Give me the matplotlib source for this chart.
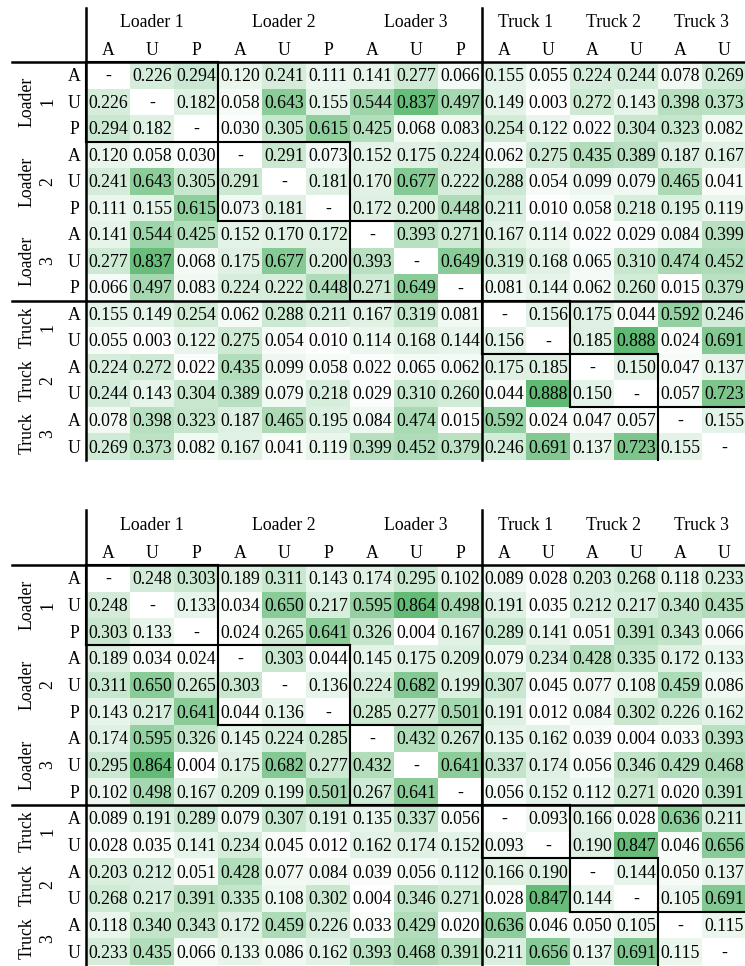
import numpy as np
import matplotlib.pyplot as plt
from matplotlib.colors import LinearSegmentedColormap

plt.rcParams['font.family'] = ['Liberation Serif', 'DejaVu Serif']

# groups of the matrix, with their sub-variables
groups = ["Loader 1", "Loader 2", "Loader 3", "Truck 1", "Truck 2", "Truck 3"]
row_groups = ["Loader\n1", "Loader\n2", "Loader\n3", "Truck\n1", "Truck\n2", "Truck\n3"]
sub_labels = [["A", "U", "P"], ["A", "U", "P"], ["A", "U", "P"],
              ["A", "U"], ["A", "U"], ["A", "U"]]

N = None
matrix_top = [
    [N, .226, .294, .120, .241, .111, .141, .277, .066, .155, .055, .224, .244, .078, .269],
    [.226, N, .182, .058, .643, .155, .544, .837, .497, .149, .003, .272, .143, .398, .373],
    [.294, .182, N, .030, .305, .615, .425, .068, .083, .254, .122, .022, .304, .323, .082],
    [.120, .058, .030, N, .291, .073, .152, .175, .224, .062, .275, .435, .389, .187, .167],
    [.241, .643, .305, .291, N, .181, .170, .677, .222, .288, .054, .099, .079, .465, .041],
    [.111, .155, .615, .073, .181, N, .172, .200, .448, .211, .010, .058, .218, .195, .119],
    [.141, .544, .425, .152, .170, .172, N, .393, .271, .167, .114, .022, .029, .084, .399],
    [.277, .837, .068, .175, .677, .200, .393, N, .649, .319, .168, .065, .310, .474, .452],
    [.066, .497, .083, .224, .222, .448, .271, .649, N, .081, .144, .062, .260, .015, .379],
    [.155, .149, .254, .062, .288, .211, .167, .319, .081, N, .156, .175, .044, .592, .246],
    [.055, .003, .122, .275, .054, .010, .114, .168, .144, .156, N, .185, .888, .024, .691],
    [.224, .272, .022, .435, .099, .058, .022, .065, .062, .175, .185, N, .150, .047, .137],
    [.244, .143, .304, .389, .079, .218, .029, .310, .260, .044, .888, .150, N, .057, .723],
    [.078, .398, .323, .187, .465, .195, .084, .474, .015, .592, .024, .047, .057, N, .155],
    [.269, .373, .082, .167, .041, .119, .399, .452, .379, .246, .691, .137, .723, .155, N],
]

matrix_bottom = [
    [N, .248, .303, .189, .311, .143, .174, .295, .102, .089, .028, .203, .268, .118, .233],
    [.248, N, .133, .034, .650, .217, .595, .864, .498, .191, .035, .212, .217, .340, .435],
    [.303, .133, N, .024, .265, .641, .326, .004, .167, .289, .141, .051, .391, .343, .066],
    [.189, .034, .024, N, .303, .044, .145, .175, .209, .079, .234, .428, .335, .172, .133],
    [.311, .650, .265, .303, N, .136, .224, .682, .199, .307, .045, .077, .108, .459, .086],
    [.143, .217, .641, .044, .136, N, .285, .277, .501, .191, .012, .084, .302, .226, .162],
    [.174, .595, .326, .145, .224, .285, N, .432, .267, .135, .162, .039, .004, .033, .393],
    [.295, .864, .004, .175, .682, .277, .432, N, .641, .337, .174, .056, .346, .429, .468],
    [.102, .498, .167, .209, .199, .501, .267, .641, N, .056, .152, .112, .271, .020, .391],
    [.089, .191, .289, .079, .307, .191, .135, .337, .056, N, .093, .166, .028, .636, .211],
    [.028, .035, .141, .234, .045, .012, .162, .174, .152, .093, N, .190, .847, .046, .656],
    [.203, .212, .051, .428, .077, .084, .039, .056, .112, .166, .190, N, .144, .050, .137],
    [.268, .217, .391, .335, .108, .302, .004, .346, .271, .028, .847, .144, N, .105, .691],
    [.118, .340, .343, .172, .459, .226, .033, .429, .020, .636, .046, .050, .105, N, .115],
    [.233, .435, .066, .133, .086, .162, .393, .468, .391, .211, .656, .137, .691, .115, N],
]

cmap = LinearSegmentedColormap.from_list("wg", ["#ffffff", "#4bb061"])
cmap.set_bad("white")
FS = 12.8


def draw_table(ax, matrix):
    m = np.array([[np.nan if v is None else v for v in row] for row in matrix], dtype=float)
    n = m.shape[0]
    ax.pcolormesh(np.arange(n + 1), np.arange(n + 1), np.ma.masked_invalid(m),
                  cmap=cmap, vmin=0, vmax=1)
    ax.set_xlim(0, n)
    ax.set_ylim(n, 0)
    ax.axis("off")

    for i in range(n):
        for j in range(n):
            txt = "-" if np.isnan(m[i, j]) else f"{m[i, j]:.3f}"
            ax.text(j + 0.5, i + 0.55, txt, ha="center", va="center", fontsize=FS)

    sizes = [len(s) for s in sub_labels]
    starts = np.concatenate([[0], np.cumsum(sizes)])
    kw = dict(clip_on=False, color="black")

    # header texts and row labels
    for g, (s, e) in enumerate(zip(starts[:-1], starts[1:])):
        ax.text((s + e) / 2, -1.47, groups[g], ha="center", va="center", fontsize=FS)
        ax.text(-1.1, (s + e) / 2, row_groups[g], ha="center", va="center",
                rotation=90, multialignment="center", fontsize=FS, linespacing=1.3)
        for k, lab in enumerate(sub_labels[g]):
            ax.text(s + k + 0.5, -0.45, lab, ha="center", va="center", fontsize=FS)
            ax.text(-0.27, s + k + 0.55, lab, ha="center", va="center", fontsize=FS)

    # main separators
    ax.plot([-1.68, n], [0, 0], lw=1.8, **kw)
    ax.plot([0, 0], [-2.05, n], lw=1.8, **kw)
    ax.plot([-1.68, n], [starts[3], starts[3]], lw=1.8, **kw)
    ax.plot([starts[3], starts[3]], [-2.05, n], lw=1.8, **kw)

    # diagonal block outlines
    for b, (s, e) in enumerate(zip(starts[:-1], starts[1:])):
        ax.plot([s, e], [s, s], lw=1.5, **kw)
        ax.plot([s, s], [s, e], lw=1.5, **kw)
        if b < len(sizes) - 1:
            ax.plot([e, e], [s, e], lw=1.5, **kw)
            ax.plot([s, e], [e, e], lw=1.5, **kw)


fig = plt.figure(figsize=(7.45, 9.66), dpi=100)
ax1 = fig.add_axes([86 / 745, 1 - 460 / 966, 660 / 745, 398 / 966])
ax2 = fig.add_axes([86 / 745, 1 - 965 / 966, 660 / 745, 400 / 966])
draw_table(ax1, matrix_top)
draw_table(ax2, matrix_bottom)

fig.savefig("out.png", dpi=100)
